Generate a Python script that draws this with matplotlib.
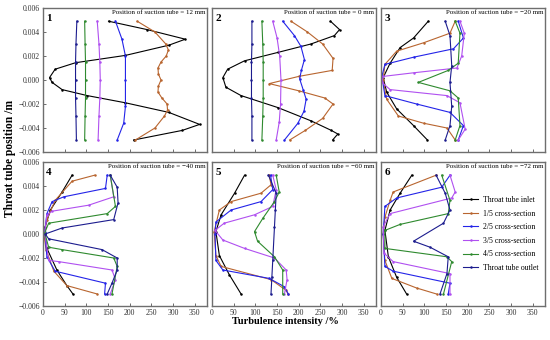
import matplotlib
matplotlib.use("Agg")
import matplotlib.pyplot as plt
from matplotlib.ticker import FuncFormatter

plt.rcParams['font.family'] = ['Liberation Serif', 'DejaVu Serif']

series_names = ["Throat tube inlet", "1/5 cross-section", "2/5 cross-section",
                "3/5 cross-section", "4/5 cross-section", "Throat tube outlet"]
series_colors = ["#000000", "#B8652F", "#2424E8", "#B050F0", "#2F8A2F", "#1C1C8E"]
suction_positions = ["12", "0", "\u221220", "\u221240", "\u221260", "\u221272"]

# ---- panel 1: suction tube = 12 mm ----
p1_inlet_x = [151, 240, 328, 290, 190, 75, 28, 15, 21, 44, 102, 190, 290, 361, 321, 209]
p1_inlet_y = [0.0049, 0.0042, 0.0034, 0.0029, 0.00205, 0.00144, 0.0009, 0.0002, -0.0002,
              -0.0008, -0.0013, -0.0019, -0.0027, -0.0037, -0.0042, -0.005]
p1_s1_x = [217, 258, 283, 289, 284, 272, 265, 266, 272, 266, 265, 274, 286, 287, 280, 258, 213]
p1_s1_y = [0.0049, 0.004, 0.003, 0.0025, 0.002, 0.0015, 0.001, 0.0005, 0.0, -0.0005, -0.001,
           -0.0015, -0.002, -0.0025, -0.003, -0.004, -0.005]
p1_s2_x = [167, 182, 190, 190, 190, 186, 171]
p1_s2_y = [0.0049, 0.0034, 0.002, 0.0, -0.0022, -0.0036, -0.005]
p1_s3_x = [125, 129, 131, 132, 131, 129, 127]
p1_s3_y = [0.0049, 0.003, 0.0015, 0.0, -0.0015, -0.003, -0.005]
p1_s4_x = [96, 97, 98, 98, 98, 97, 96]
p1_s4_y = [0.0049, 0.003, 0.0015, 0.0, -0.0015, -0.003, -0.005]
p1_out_x = [78, 76, 75, 75, 75, 76, 77]
p1_out_y = [0.0049, 0.003, 0.0015, 0.0, -0.0015, -0.003, -0.005]

# ---- panel 2: suction tube = 0 mm ----
p2_inlet_x = [273, 294, 282, 228, 152, 75, 36, 25, 32, 67, 152, 228, 275, 290, 278]
p2_inlet_y = [0.0049, 0.0042, 0.0037, 0.003, 0.0023, 0.0016, 0.0009, 0.0002, -0.0006,
              -0.0013, -0.0023, -0.0034, -0.0042, -0.0045, -0.005]
p2_s1_x = [182, 220, 255, 279, 277, 200, 132, 200, 260, 279, 255, 215, 179]
p2_s1_y = [0.0049, 0.004, 0.003, 0.0018, 0.0008, 0.0003, -0.0003, -0.0009, -0.0015,
           -0.002, -0.0032, -0.0042, -0.005]
p2_s2_x = [163, 190, 205, 213, 206, 202, 210, 217, 212, 198, 167]
p2_s2_y = [0.0049, 0.0037, 0.0028, 0.0017, 0.0008, 0.0001, -0.0008, -0.0016, -0.0026,
           -0.0036, -0.005]
p2_s3_x = [140, 150, 156, 159, 158, 155, 148]
p2_s3_y = [0.0049, 0.0035, 0.002, 0.0, -0.002, -0.0035, -0.005]
p2_s4_x = [115, 117, 118, 118, 118, 117, 115]
p2_s4_y = [0.0049, 0.003, 0.0015, 0.0, -0.0015, -0.003, -0.005]
p2_out_x = [92, 92, 91, 91, 91, 92, 92]
p2_out_y = [0.0049, 0.003, 0.0015, 0.0, -0.0015, -0.003, -0.005]

# ---- panel 3: suction tube = -20 mm ----
p3_inlet_x = [109, 75, 44, 21, 5, 13, 36, 75, 107]
p3_inlet_y = [0.0049, 0.0035, 0.0027, 0.0014, 0.0002, -0.001, -0.0024, -0.0038, -0.005]
p3_s1_x = [171, 159, 98, 36, 9, 5, 13, 40, 98, 152, 171]
p3_s1_y = [0.0049, 0.0039, 0.0031, 0.0024, 0.0013, 0.0, -0.0016, -0.003, -0.0036, -0.004, -0.005]
p3_s2_x = [178, 190, 167, 75, 9, 2, 9, 82, 159, 190, 178]
p3_s2_y = [0.0049, 0.0035, 0.0026, 0.0019, 0.0013, 0.0003, -0.0013, -0.002, -0.0027,
           -0.0038, -0.005]
p3_s3_x = [182, 192, 186, 175, 75, 5, 2, 21, 152, 182, 194, 178]
p3_s3_y = [0.0049, 0.0039, 0.002, 0.001, 0.0006, 0.0003, -0.0002, -0.0008, -0.0013,
           -0.0019, -0.0041, -0.005]
p3_s4_x = [171, 182, 178, 155, 86, 159, 178, 182, 171]
p3_s4_y = [0.0049, 0.0039, 0.0014, 0.0008, -0.0002, -0.0009, -0.0015, -0.0038, -0.005]
p3_out_x = [148, 159, 163, 159, 163, 159, 148]
p3_out_y = [0.0049, 0.0037, 0.0012, -0.0002, -0.0022, -0.0038, -0.005]

# ---- panel 4: suction tube = -40 mm ----
p4_inlet_x = [67, 44, 17, 5, 4, 9, 32, 55, 69]
p4_inlet_y = [0.0049, 0.0035, 0.002, 0.0006, 0.0, -0.0012, -0.003, -0.0043, -0.005]
p4_s1_x = [119, 67, 28, 9, 2, 7, 25, 55, 125]
p4_s1_y = [0.0049, 0.0044, 0.0028, 0.0012, 0.0, -0.0013, -0.0031, -0.0043, -0.005]
p4_s2_x = [148, 144, 48, 21, 9, 4, 9, 28, 144, 142]
p4_s2_y = [0.0049, 0.0038, 0.0031, 0.0027, 0.0017, 0.0002, -0.0019, -0.0031, -0.0041, -0.005]
p4_s3_x = [155, 163, 105, 21, 9, 4, 13, 36, 159, 167, 155]
p4_s3_y = [0.0049, 0.0031, 0.0024, 0.0019, 0.0016, 0.0001, -0.0022, -0.0023, -0.003,
           -0.0038, -0.005]
p4_s4_x = [155, 167, 148, 13, 4, 13, 44, 163, 171, 159]
p4_s4_y = [0.0049, 0.0023, 0.0017, 0.0009, 0.0001, -0.0011, -0.0013, -0.002, -0.0027, -0.005]
p4_out_x = [155, 171, 173, 163, 44, 5, 13, 136, 171, 171, 159, 148]
p4_out_y = [0.0049, 0.0039, 0.0026, 0.0012, 0.0005, 0.0, -0.0004, -0.0013, -0.002,
            -0.003, -0.0041, -0.005]

# ---- panel 5: suction tube = -60 mm ----
p5_inlet_x = [75, 52, 21, 9, 17, 40, 67]
p5_inlet_y = [0.0049, 0.0034, 0.0016, 0.0002, -0.0018, -0.0034, -0.005]
p5_s1_x = [132, 136, 113, 44, 17, 5, 9, 21, 136, 171, 175]
p5_s1_y = [0.0049, 0.0041, 0.0034, 0.0027, 0.002, 0.0002, -0.0018, -0.0027, -0.0038,
           -0.0047, -0.005]
p5_s2_x = [135, 140, 113, 44, 9, 7, 9, 25, 132, 167, 176]
p5_s2_y = [0.0049, 0.0037, 0.0027, 0.002, 0.001, 0.0, -0.0022, -0.003, -0.0037, -0.0044, -0.005]
p5_s3_x = [140, 148, 140, 98, 28, 7, 25, 75, 144, 171, 173, 167]
p5_s3_y = [0.0049, 0.0037, 0.0023, 0.0016, 0.0009, 0.0003, -0.0005, -0.0012, -0.002,
           -0.003, -0.0038, -0.005]
p5_s4_x = [148, 155, 144, 117, 98, 105, 144, 163, 163]
p5_s4_y = [0.0049, 0.0035, 0.0027, 0.0013, 0.0002, -0.0006, -0.0019, -0.003, -0.005]
p5_out_x = [130, 148, 146, 144, 140, 138, 136]
p5_out_y = [0.0049, 0.0034, 0.002, 0.0006, -0.0022, -0.0036, -0.005]

# ---- panel 6: suction tube = -72 mm ----
p6_inlet_x = [71, 44, 21, 9, 17, 36, 59]
p6_inlet_y = [0.0049, 0.0034, 0.002, 0.0003, -0.0019, -0.0036, -0.005]
p6_s1_x = [127, 28, 21, 9, 5, 9, 25, 82, 128]
p6_s1_y = [0.0049, 0.0035, 0.0028, 0.0014, 0.0, -0.0022, -0.0037, -0.0045, -0.005]
p6_s2_x = [159, 140, 36, 9, 5, 9, 28, 159, 155]
p6_s2_y = [0.0049, 0.0039, 0.003, 0.0023, 0.0, -0.0027, -0.0031, -0.0041, -0.005]
p6_s3_x = [159, 171, 163, 21, 5, 7, 28, 159, 159]
p6_s3_y = [0.0049, 0.0035, 0.003, 0.0017, 0.0006, -0.0016, -0.0023, -0.0033, -0.005]
p6_s4_x = [140, 159, 155, 44, 9, 9, 152, 163, 144]
p6_s4_y = [0.0049, 0.0028, 0.0017, 0.0008, 0.0003, -0.0012, -0.0019, -0.0023, -0.005]
p6_out_x = [127, 148, 159, 144, 75, 113, 155, 152, 136]
p6_out_y = [0.0049, 0.0034, 0.002, 0.0009, -0.0006, -0.0011, -0.0019, -0.0033, -0.005]

panels = [
    [(p1_inlet_x, p1_inlet_y), (p1_s1_x, p1_s1_y), (p1_s2_x, p1_s2_y),
     (p1_s3_x, p1_s3_y), (p1_s4_x, p1_s4_y), (p1_out_x, p1_out_y)],
    [(p2_inlet_x, p2_inlet_y), (p2_s1_x, p2_s1_y), (p2_s2_x, p2_s2_y),
     (p2_s3_x, p2_s3_y), (p2_s4_x, p2_s4_y), (p2_out_x, p2_out_y)],
    [(p3_inlet_x, p3_inlet_y), (p3_s1_x, p3_s1_y), (p3_s2_x, p3_s2_y),
     (p3_s3_x, p3_s3_y), (p3_s4_x, p3_s4_y), (p3_out_x, p3_out_y)],
    [(p4_inlet_x, p4_inlet_y), (p4_s1_x, p4_s1_y), (p4_s2_x, p4_s2_y),
     (p4_s3_x, p4_s3_y), (p4_s4_x, p4_s4_y), (p4_out_x, p4_out_y)],
    [(p5_inlet_x, p5_inlet_y), (p5_s1_x, p5_s1_y), (p5_s2_x, p5_s2_y),
     (p5_s3_x, p5_s3_y), (p5_s4_x, p5_s4_y), (p5_out_x, p5_out_y)],
    [(p6_inlet_x, p6_inlet_y), (p6_s1_x, p6_s1_y), (p6_s2_x, p6_s2_y),
     (p6_s3_x, p6_s3_y), (p6_s4_x, p6_s4_y), (p6_out_x, p6_out_y)],
]

W, H = 550, 340
fig = plt.figure(figsize=(W / 100, H / 100), dpi=100)

lefts = [43, 212, 381]
tops = [8, 162]
pw, ph = 164, 144

ytick_fmt = FuncFormatter(lambda v, p: f"{v:.3f}".replace("-", "\u2212"))

for i, data in enumerate(panels):
    row, col = divmod(i, 3)
    ax = fig.add_axes([lefts[col] / W, 1 - (tops[row] + ph) / H, pw / W, ph / H])
    for (xs, ys), name, c in zip(data, series_names, series_colors):
        ax.plot(xs, ys, color=c, lw=0.8, marker='.', ms=1.6, label=name)
    ax.set_xlim(0, 378)
    ax.set_ylim(-0.006, 0.006)
    ax.set_xticks(range(0, 351, 50))
    ax.set_yticks([-0.006, -0.004, -0.002, 0, 0.002, 0.004, 0.006])
    ax.yaxis.set_major_formatter(ytick_fmt)
    ax.tick_params(direction='in', length=2.5, width=0.6, color='#555555',
                   labelsize=5.6, labelcolor='#333333', pad=2)
    if row == 0:
        ax.tick_params(axis='x', labelbottom=False)
    if col != 0:
        ax.tick_params(axis='y', left=False, labelleft=False)
    for s in ax.spines.values():
        s.set_color('#6e6e6e')
        s.set_linewidth(1.0)
    ax.text(0.02, 0.955, str(i + 1), transform=ax.transAxes, fontsize=8,
            fontweight='bold', va='top', ha='left')
    ax.text(0.99, 0.985, f"Position of suction tube = {suction_positions[i]} mm",
            transform=ax.transAxes, fontsize=5, va='top', ha='right')
    if i == 5:
        ax.legend(loc='center left', bbox_to_anchor=(0.46, 0.5), frameon=False,
                  fontsize=5.6, handlelength=1.9, labelspacing=0.72, handletextpad=0.6)

fig.text(10 / W, 1 - 158 / H, "Throat tube position /m", rotation=90, fontsize=8.3,
         fontweight='bold', ha='center', va='center')
fig.text(285 / W, 1 - 322 / H, "Turbulence intensity /%", fontsize=7.5,
         fontweight='bold', ha='center', va='center')

fig.savefig("out.png", dpi=100)
